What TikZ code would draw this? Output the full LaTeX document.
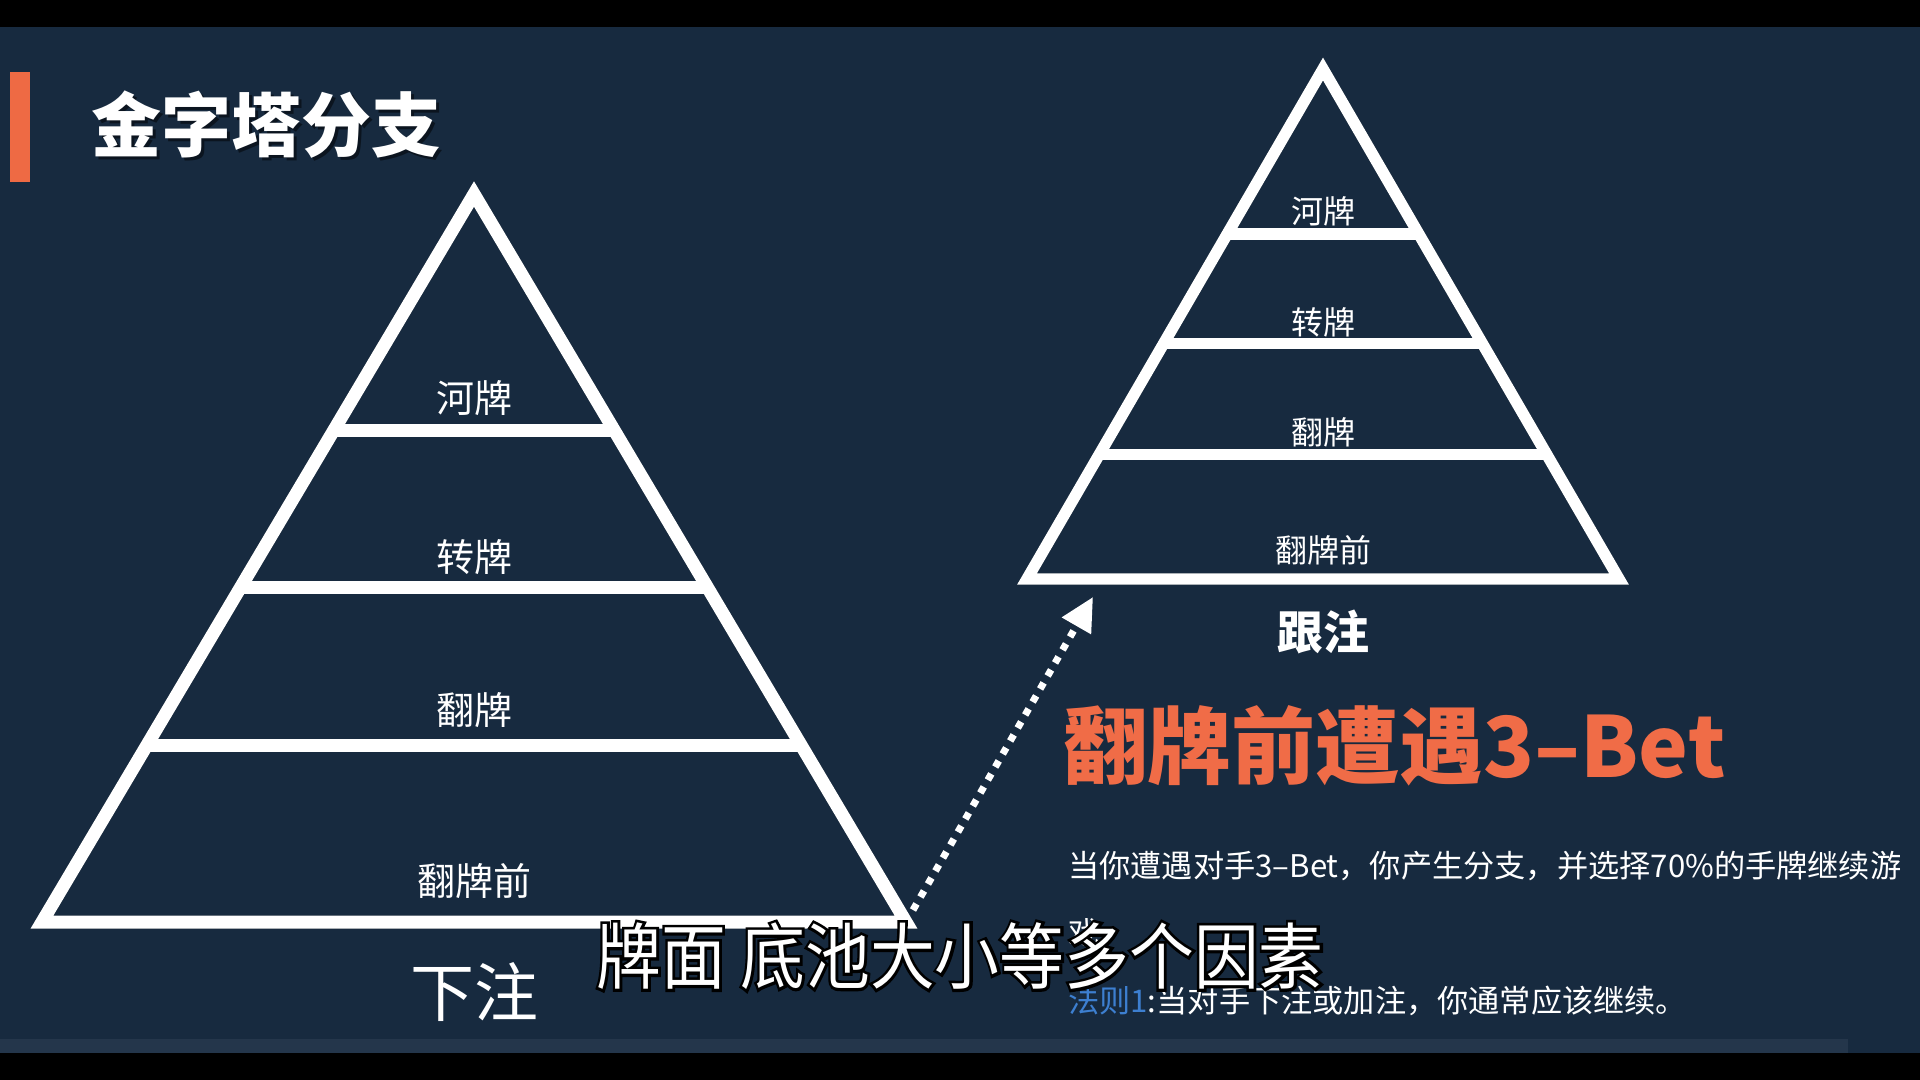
\documentclass[tikz,border=0pt]{standalone}
\usepackage{fontspec}
\setmainfont{Noto Sans CJK SC}
\newfontfamily\outlinefont[FakeBold=8]{Noto Sans CJK SC}
\usetikzlibrary{arrows.meta,calc}
\definecolor{bg}{HTML}{172A3F}
\definecolor{band}{HTML}{24364B}
\definecolor{accent}{HTML}{EE6A44}
\definecolor{orangetxt}{HTML}{F06C47}
\definecolor{ruleblue}{HTML}{3D7FD0}
\tikzset{
  pyrL/.style={draw=white,line width=9.75pt,line join=miter},
  pyrR/.style={draw=white,line width=8.6pt,line join=miter},
  shadL/.style={draw=black,opacity=0.35,line width=9.75pt,line join=miter},
  shadR/.style={draw=black,opacity=0.35,line width=8.6pt,line join=miter},
  lblL/.style={text=white,inner sep=0pt,font=\fontsize{28.5}{30}\selectfont},
  lblR/.style={text=white,inner sep=0pt,font=\fontsize{24}{26}\selectfont},
  body/.style={text=white,inner sep=0pt,anchor=west,font=\fontsize{23.4}{26}\selectfont},
  subt/.style={inner sep=0pt,font=\fontsize{54}{56}\selectfont}
}
\begin{document}
\begin{tikzpicture}[x=0.75pt,y=-0.75pt]
\useasboundingbox (0,0) rectangle (1920,1080);
\fill[black] (0,0) rectangle (1920,1080);
\fill[bg] (0,27) rectangle (1920,1053);
\fill[band] (0,1039) rectangle (1848,1053);

% title
\fill[accent] (10,72) rectangle (30,182);
\node[text=black,opacity=0.5,inner sep=0pt,anchor=west,font=\fontsize{52.5}{54}\selectfont\bfseries] (titlesh) at (94,128) {金字塔分支};
\node[text=white,inner sep=0pt,anchor=west,font=\fontsize{52.5}{54}\selectfont\bfseries] (title) at (91,125) {金字塔分支};

% left pyramid
\coordinate (LA) at (474,194);
\coordinate (LL) at (42,922);
\coordinate (LR) at (906,922);
\begin{scope}[shift={(3,4)}]
\draw[shadL] (LA) -- (LL) -- (LR) -- cycle;
\foreach \t in {0.3255,0.5412,0.7569}
  \draw[shadL] ($(LA)!\t!(LL)$) -- ($(LA)!\t!(LR)$);
\end{scope}
\draw[pyrL] (LA) -- (LL) -- (LR) -- cycle;
\foreach \t in {0.3255,0.5412,0.7569}
  \draw[pyrL] ($(LA)!\t!(LL)$) -- ($(LA)!\t!(LR)$);
\node[lblL] (lriver) at (474,398) {河牌};
\node[lblL] (lturn) at (474,557) {转牌};
\node[lblL] (lflop) at (474,710) {翻牌};
\node[lblL] (lpre) at (474,881) {翻牌前};
\node[text=white,inner sep=0pt,font=\fontsize{48}{50}\selectfont] (bet) at (474,992) {下注};

% right pyramid
\coordinate (RA) at (1323,69);
\coordinate (RL) at (1027,579);
\coordinate (RR) at (1619,579);
\begin{scope}[shift={(3,4)}]
\draw[shadR] (RA) -- (RL) -- (RR) -- cycle;
\foreach \t in {0.3235,0.5382,0.7559}
  \draw[shadR] ($(RA)!\t!(RL)$) -- ($(RA)!\t!(RR)$);
\end{scope}
\draw[pyrR] (RA) -- (RL) -- (RR) -- cycle;
\foreach \t in {0.3235,0.5382,0.7559}
  \draw[pyrR] ($(RA)!\t!(RL)$) -- ($(RA)!\t!(RR)$);
\node[lblR] (rriver) at (1323,211) {河牌};
\node[lblR] (rturn) at (1323,322) {转牌};
\node[lblR] (rflop) at (1323,432) {翻牌};
\node[lblR] (rpre) at (1323,550) {翻牌前};
\node[text=white,inner sep=0pt,font=\fontsize{34.5}{36}\selectfont\bfseries] (call) at (1323,632) {跟注};

% dotted arrow
\coordinate (arrs) at (913,910);
\coordinate (arre) at (1093,597);
\draw[white,line width=5.25pt,dash pattern=on 5.25pt off 6pt,
  -{Triangle[length=25pt,width=24pt]}] (arrs) -- (arre);

% orange heading
\node[text=orangetxt,inner sep=0pt,anchor=west,font=\fontsize{63}{65}\selectfont\bfseries] (head) at (1063,746) {翻牌前遭遇3–Bet};

% body text
\node[body] (line1) at (1068,866) {当你遭遇对手3–Bet，你产生分支，并选择70\%的手牌继续游};
\node[body] (line2) at (1068,933) {戏};
\node[body] (line3) at (1068,1001) {\textcolor{ruleblue}{法则1}:当对手下注或加注，你通常应该继续。};

% subtitle with outline
\node[subt,text=black] (subsh) at (960,956) {\outlinefont\scalebox{0.9}[1]{牌面 底池大小等多个因素}};
\node[subt,text=white] (subtitle) at (960,956) {\scalebox{0.9}[1]{牌面 底池大小等多个因素}};
\end{tikzpicture}
\end{document}
